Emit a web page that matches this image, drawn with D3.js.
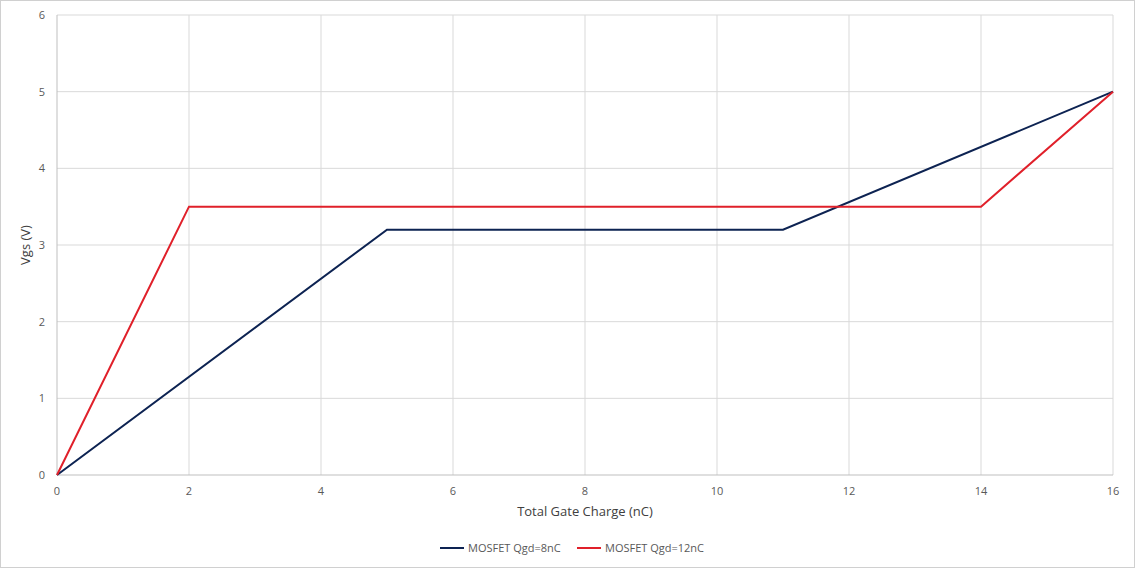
<!DOCTYPE html>
<html><head><meta charset="utf-8">
<script src="https://cdn.jsdelivr.net/npm/d3@7"></script>
<style>body{margin:0;background:#fff}text{font-family:"Open Sans",sans-serif}</style>
</head><body>
<svg id="chart" width="1135" height="568"></svg>
<script>
// chart data
const xTicks = [0, 2, 4, 6, 8, 10, 12, 14, 16];
const yTicks = [0, 1, 2, 3, 4, 5, 6];
const seriesNames = ["MOSFET Qgd=8nC", "MOSFET Qgd=12nC"];
const seriesColors = ["#0d2352", "#e0202a"];
const qgd8X = [0, 5, 11, 16];
const qgd8Y = [0, 3.2, 3.2, 5];
const qgd12X = [0, 2, 14, 16];
const qgd12Y = [0, 3.5, 3.5, 5];

const svg = d3.select("#chart");
svg.append("rect").attr("x", 0.5).attr("y", 0.5).attr("width", 1134).attr("height", 567)
  .attr("fill", "#fff").attr("stroke", "#d0d0d0");

const x = d3.scaleLinear().domain([0, 16]).range([57, 1113]);
const y = d3.scaleLinear().domain([0, 6]).range([475, 15]);

// gridlines
svg.append("g").selectAll("line.v").data(xTicks.slice(1)).join("line")
  .attr("x1", d => x(d)).attr("x2", d => x(d)).attr("y1", y(0)).attr("y2", y(6))
  .attr("stroke", "#d9d9d9");
svg.append("g").selectAll("line.h").data(yTicks.slice(1)).join("line")
  .attr("x1", x(0)).attr("x2", x(16)).attr("y1", d => y(d)).attr("y2", d => y(d))
  .attr("stroke", "#d9d9d9");
// axes lines
svg.append("line").attr("x1", x(0)).attr("x2", x(16)).attr("y1", y(0)).attr("y2", y(0)).attr("stroke", "#bfbfbf");
svg.append("line").attr("x1", x(0)).attr("x2", x(0)).attr("y1", y(0)).attr("y2", y(6)).attr("stroke", "#bfbfbf");

// tick labels
svg.append("g").selectAll("text").data(xTicks).join("text")
  .attr("x", d => x(d)).attr("y", 495).attr("text-anchor", "middle")
  .attr("font-size", 11).attr("fill", "#595959").text(d => d);
svg.append("g").selectAll("text").data(yTicks).join("text")
  .attr("x", 45).attr("y", d => y(d) + 4).attr("text-anchor", "end")
  .attr("font-size", 11).attr("fill", "#595959").text(d => d);

// axis titles
svg.append("text").attr("x", x(8)).attr("y", 516).attr("text-anchor", "middle")
  .attr("font-size", 13).attr("fill", "#404040").text("Total Gate Charge (nC)");
svg.append("text").attr("transform", `translate(30,${y(3)}) rotate(-90)`).attr("text-anchor", "middle")
  .attr("font-size", 13).attr("fill", "#404040").text("Vgs (V)");

// lines
const line = d3.line().x(d => x(d[0])).y(d => y(d[1]));
const series = [d3.zip(qgd8X, qgd8Y), d3.zip(qgd12X, qgd12Y)];
series.forEach((s, i) => {
  svg.append("path").datum(s).attr("d", line).attr("fill", "none")
    .attr("stroke", seriesColors[i]).attr("stroke-width", 2);
});

// legend
const legX = [440, 577];
seriesNames.forEach((n, i) => {
  svg.append("line").attr("x1", legX[i]).attr("x2", legX[i] + 24).attr("y1", 548).attr("y2", 548)
    .attr("stroke", seriesColors[i]).attr("stroke-width", 2);
  svg.append("text").attr("x", legX[i] + 28).attr("y", 552).attr("font-size", 11)
    .attr("fill", "#595959").text(n);
});
</script>
</body></html>
